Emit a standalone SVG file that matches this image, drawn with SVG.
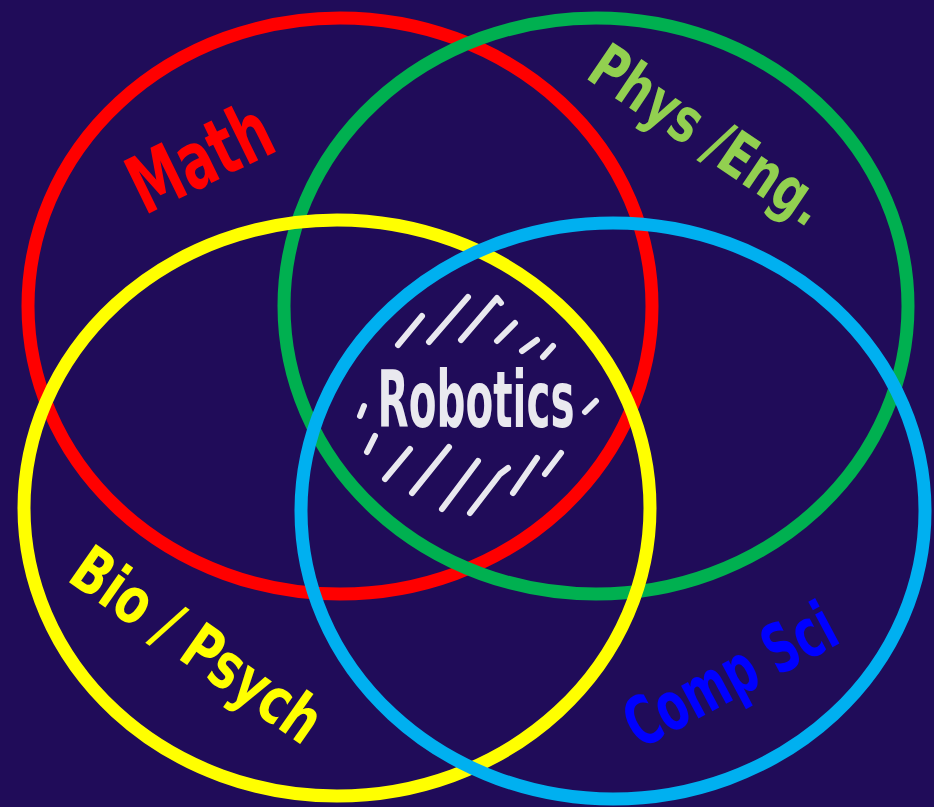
<svg xmlns="http://www.w3.org/2000/svg" width="934" height="807" viewBox="0 0 934 807">
<style>
.ring{fill:none;stroke-width:13}
.lbl{font-family:"DejaVu Sans Condensed","Liberation Sans",sans-serif;font-weight:bold;text-anchor:middle;dominant-baseline:central}
.hatch{fill:none;stroke:#e9e9ef;stroke-width:6;stroke-linecap:round;stroke-linejoin:round}
</style>
<rect width="934" height="807" fill="#200c59"/>
<g id="math">
<ellipse class="ring" cx="340" cy="306" rx="312" ry="288" stroke="#ff0000"/>
<text class="lbl" x="200" y="158" font-size="80" fill="#ff0000" textLength="150" lengthAdjust="spacingAndGlyphs" transform="rotate(-26 200 158)">Math</text>
</g>
<g id="phys">
<ellipse class="ring" cx="596" cy="306" rx="312" ry="288" stroke="#00b050"/>
<text class="lbl" x="708" y="135" font-size="62" fill="#92d050" textLength="270" lengthAdjust="spacingAndGlyphs" transform="rotate(34 708 135)">Phys /Eng.</text>
</g>
<g id="bio">
<ellipse class="ring" cx="337" cy="508" rx="313" ry="288" stroke="#ffff00"/>
<text class="lbl" x="197" y="645" font-size="64" fill="#ffff00" textLength="290" lengthAdjust="spacingAndGlyphs" transform="rotate(35 197 645)">Bio / Psych</text>
</g>
<g id="comp">
<ellipse class="ring" cx="613" cy="511" rx="312" ry="288" stroke="#00b0f0"/>
<text class="lbl" x="730" y="675" font-size="68" fill="#0000ff" textLength="230" lengthAdjust="spacingAndGlyphs" transform="rotate(-28 730 675)">Comp Sci</text>
</g>
<g id="robotics">
<text class="lbl" x="476" y="400" font-size="78" fill="#e9e9ef" textLength="197" lengthAdjust="spacingAndGlyphs">Robotics</text>
<path class="hatch" d="M398 345L422 316M429 342L468 297M461 340L497 298L501 303M497 341L515 323M522 351L537 340M543 357L553 346M360 416L364 406M585 412L596 401M367 452L375 436M385 479L410 449M412 493L449 447M442 509L478 461M470 513L500 474L508 468M513 493L537 458M545 474L561 453"/>
</g>
<g id="connectors"/>
</svg>
